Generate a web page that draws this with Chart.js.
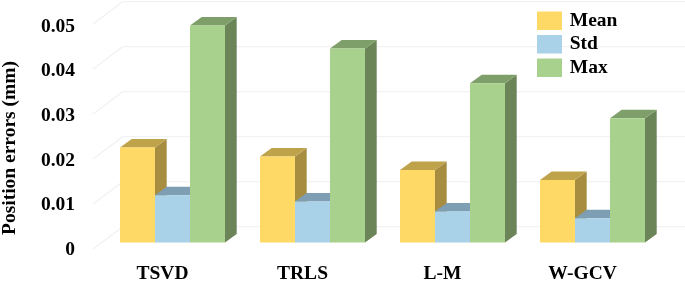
<!DOCTYPE html>
<html>
<head>
<meta charset="utf-8">
<style>
  html, body { margin: 0; padding: 0; background: #fff; }
  canvas { display: block; }
</style>
<script src="https://cdn.jsdelivr.net/npm/chart.js@4/dist/chart.umd.min.js"></script>
</head>
<body>
<canvas id="grafico" width="685" height="281"></canvas>
<script>
const categorias = ["TSVD", "TRLS", "L-M", "W-GCV"];
const mean = [0.0211, 0.0191, 0.0161, 0.0139];
const std = [0.0105, 0.0091, 0.0069, 0.0054];
const max = [0.0482, 0.0431, 0.0354, 0.0276];
const yTicks = [0, 0.01, 0.02, 0.03, 0.04, 0.05];

const fuente = { family: "'Liberation Serif'", weight: "bold", size: 19.5, lineHeight: 1 };

// caras laterales y superiores de cada serie
const caras = [
  { lado: "#A68D40", arriba: "#BFA34B" },
  { lado: "#7E9FB3", arriba: "#7E9FB3" },
  { lado: "#6B8559", arriba: "#7F9F6A" }
];
const fondoX = 11.7, fondoY = 8.5;

const pseudo3d = {
  id: "pseudo3d",
  afterLayout(chart) {
    // el titulo y la leyenda no siguen el area del grafico
    chart.titleBlock.top = 59;
    chart.titleBlock.bottom = 237;
    chart.legend.left = 535;
    chart.legend.top = 7;
  },
  beforeDraw(chart) {
    const ctx = chart.ctx;
    const y = chart.scales.y;
    ctx.save();
    ctx.strokeStyle = "#F2F2F2";
    ctx.lineWidth = 1.3;
    yTicks.forEach((v) => {
      const py = y.getPixelForValue(v) - 15.8;
      ctx.beginPath();
      ctx.moveTo(93, py + 22.3);
      ctx.lineTo(122.7, py);
      ctx.lineTo(685, py);
      ctx.stroke();
    });
    ctx.restore();
  },
  beforeDatasetsDraw(chart) {
    const ctx = chart.ctx;
    ctx.save();
    categorias.forEach((c, j) => {
      chart.data.datasets.forEach((ds, i) => {
        const b = chart.getDatasetMeta(i).data[j];
        const x0 = b.x - b.width / 2, x1 = b.x + b.width / 2;
        ctx.fillStyle = caras[i].lado;
        ctx.beginPath();
        ctx.moveTo(x1, b.y);
        ctx.lineTo(x1 + fondoX, b.y - fondoY);
        ctx.lineTo(x1 + fondoX, b.base - fondoY);
        ctx.lineTo(x1, b.base);
        ctx.closePath();
        ctx.fill();
        ctx.fillStyle = caras[i].arriba;
        ctx.beginPath();
        ctx.moveTo(x0, b.y);
        ctx.lineTo(x0 + fondoX, b.y - fondoY);
        ctx.lineTo(x1 + fondoX, b.y - fondoY);
        ctx.lineTo(x1, b.y);
        ctx.closePath();
        ctx.fill();
      });
    });
    ctx.restore();
  }
};

new Chart(document.getElementById("grafico"), {
  type: "bar",
  data: {
    labels: categorias,
    datasets: [
      { label: "Mean", data: mean, backgroundColor: "#FFD966" },
      { label: "Std", data: std, backgroundColor: "#A9D1E8" },
      { label: "Max", data: max, backgroundColor: "#A9D18E" }
    ]
  },
  options: {
    responsive: false,
    animation: false,
    events: [],
    categoryPercentage: 0.75,
    barPercentage: 1,
    layout: { padding: { top: 5, right: 22.5, left: 0, bottom: 0 } },
    scales: {
      x: {
        grid: { display: false, drawTicks: false },
        border: { display: false },
        ticks: { color: "#000", font: fuente, padding: 12, labelOffset: -10, maxRotation: 0, autoSkip: false },
        afterFit(scale) { scale.height = 29; }
      },
      y: {
        display: false,
        min: -0.00211,
        max: 0.05278
      },
      yLabels: {
        position: "left",
        min: -0.000447,
        max: 0.05481,
        grid: { display: false, tickLength: 27.5 },
        border: { display: false },
        afterBuildTicks(scale) { scale.ticks = yTicks.map((v) => ({ value: v })); },
        ticks: {
          color: "#000",
          font: fuente,
          padding: 0,
          callback: (v) => String(v)
        },
        afterFit(scale) {
          scale.width = 83;
          // sin esto la escala se encoge por las etiquetas
          scale.paddingTop = 0;
          scale.paddingBottom = 0;
        }
      }
    },
    plugins: {
      tooltip: { enabled: false },
      title: {
        display: true,
        position: "left",
        text: "Position errors (mm)",
        color: "#000",
        font: fuente,
        padding: 0
      },
      legend: {
        position: "chartArea",
        fullSize: false,
        align: "start",
        labels: {
          color: "#000",
          font: fuente,
          boxWidth: 21,
          boxHeight: 14.5,
          padding: 4,
          generateLabels(chart) {
            return chart.data.datasets.map((ds, i) => ({
              text: ds.label,
              fillStyle: ds.backgroundColor,
              strokeStyle: ds.backgroundColor,
              lineWidth: 4,
              fontColor: "#000",
              datasetIndex: i
            }));
          }
        }
      }
    }
  },
  plugins: [pseudo3d]
});
</script>
</body>
</html>
